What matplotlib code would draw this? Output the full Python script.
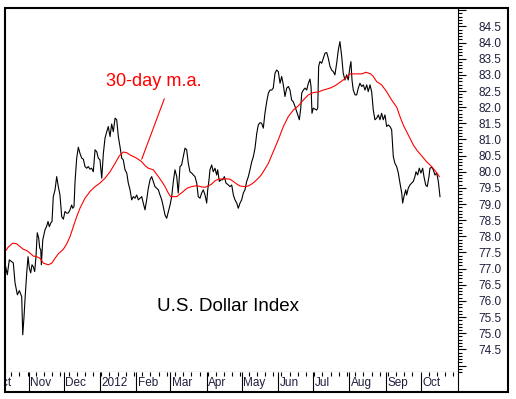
import matplotlib
matplotlib.use("Agg")
import matplotlib.pyplot as plt
import matplotlib.dates as mdates
from matplotlib.patches import Rectangle
from matplotlib.transforms import ScaledTranslation
import pandas as pd

plt.rcParams['font.family'] = ['Liberation Sans', 'DejaVu Sans']

# Day offsets are counted from 2011-11-01
base_date = pd.Timestamp("2011-11-01")

# U.S. Dollar Index, daily closes
usd_day = [
    -20.3, -18.3, -16.6, -13.2, -11.7, -9.7, -8.0, -6.0, -5.1, -4.0,
    -3.2, -1.7, -0.6, 0.5, 1.7, 2.8, 3.9, 5.1, 6.2, 7.3,
    8.5, 9.4, 10.3, 10.8, 12.0, 13.9, 15.4, 16.5, 17.6, 18.8,
    19.9, 21.0, 22.5, 23.9, 25.3, 26.7, 28.2, 29.6, 31.0, 32.5,
    33.8, 35.3, 36.7, 37.6, 38.7, 39.6, 41.0, 42.4, 43.8, 45.3,
    46.7, 48.1, 49.6, 50.9, 52.4, 53.8, 55.2, 56.7, 58.1, 59.5,
    60.9, 62.4, 63.8, 65.2, 66.7, 68.0, 69.5, 70.9, 72.3, 73.8,
    75.2, 76.6, 78.0, 79.5, 80.8, 82.3, 83.8, 85.1, 86.6, 88.0,
    89.4, 90.8, 92.3, 93.7, 95.1, 96.6, 97.9, 99.4, 100.8, 102.2,
    103.7, 105.1, 106.5, 107.9, 109.4, 110.8, 112.2, 113.7, 115.0, 116.5,
    117.9, 119.3, 120.8, 122.2, 123.6, 125.0, 126.5, 127.8, 129.3, 130.7,
    132.1, 133.6, 135.0, 136.4, 137.8, 139.3, 140.7, 142.1, 143.6, 144.9,
    146.4, 147.8, 149.2, 150.7, 152.1, 153.0, 154.1, 154.9, 156.4, 157.7,
    159.2, 160.6, 161.5, 162.9, 164.3, 165.8, 167.2, 168.6, 170.6, 172.0,
    173.5, 174.9, 176.3, 177.8, 179.1, 180.6, 182.0, 183.4, 184.8, 186.3,
    187.7, 189.1, 190.6, 192.0, 193.4, 194.9, 196.2, 197.7, 199.1, 200.5,
    201.9, 203.4, 204.8, 206.2, 207.7, 209.0, 210.5, 211.9, 213.3, 214.8,
    216.2, 217.6, 219.0, 220.5, 221.9, 223.3, 224.7, 226.1, 227.6, 229.0,
    230.4, 231.3, 232.5, 233.3, 234.7, 236.1, 237.6, 239.0, 240.4, 241.3,
    242.1, 243.2, 244.7, 246.1, 247.0, 247.8, 248.9, 250.4, 251.8, 253.2,
    254.7, 256.0, 257.5, 258.9, 260.3, 261.7, 263.2, 264.6, 266.0, 267.5,
    268.8, 270.3, 271.7, 273.1, 274.6, 275.4, 276.3, 277.4, 278.9, 280.3,
    281.7, 283.1, 284.6, 286.0, 287.4, 288.9, 290.2, 291.7, 293.1, 294.5,
    295.9, 297.4, 298.8, 300.2, 301.6, 303.0, 304.5, 305.9, 307.3, 308.8,
    310.2, 311.6, 313.0, 314.5, 315.9, 317.3, 318.8, 319.6, 320.7, 322.2,
    323.0, 324.4, 325.8, 327.3, 328.7, 330.1, 331.0, 332.4, 333.8, 335.2,
    336.7, 337.8, 339.3, 340.6, 342.1, 342.9, 344.4, 345.8, 347.2, 348.7,
    350.1, 351.5,
]
usd_val = [
    77.17, 76.81, 77.27, 77.18, 76.56, 76.19, 76.32, 76.13, 74.95, 75.52,
    76.03, 76.87, 77.37, 77.02, 76.87, 77.12, 77.06, 76.91, 77.37, 78.11,
    77.95, 77.64, 77.58, 77.12, 77.89, 78.20, 78.32, 78.46, 78.30, 78.41,
    78.46, 79.23, 79.44, 79.85, 79.54, 79.28, 78.61, 78.53, 78.77, 78.72,
    78.72, 78.82, 78.97, 78.87, 78.92, 79.70, 80.42, 80.76, 80.57, 80.42,
    80.39, 80.16, 80.11, 80.16, 80.08, 80.11, 80.00, 80.68, 80.62, 80.42,
    80.37, 79.80, 80.57, 81.04, 81.24, 81.40, 81.09, 81.48, 81.24, 81.66,
    81.61, 81.09, 80.78, 80.42, 80.37, 80.06, 79.96, 79.65, 79.44, 79.13,
    79.23, 79.18, 79.28, 79.13, 79.18, 79.23, 79.03, 78.82, 79.13, 79.49,
    79.75, 79.85, 79.70, 79.54, 79.49, 79.44, 79.28, 79.13, 78.92, 78.66,
    78.56, 78.76, 78.97, 79.23, 79.70, 80.06, 79.85, 79.34, 80.16, 80.21,
    80.47, 80.73, 80.68, 80.26, 80.00, 79.96, 79.90, 79.85, 79.65, 79.23,
    79.18, 79.34, 79.44, 79.28, 79.03, 79.44, 79.75, 80.06, 80.21, 80.00,
    80.11, 79.90, 80.06, 79.70, 79.75, 79.75, 79.85, 79.65, 79.59, 79.54,
    79.59, 79.28, 79.13, 79.03, 78.87, 79.03, 79.13, 79.34, 79.44, 79.70,
    79.85, 80.06, 80.31, 80.47, 80.73, 81.19, 81.45, 81.52, 81.50, 81.35,
    81.81, 82.17, 82.43, 82.53, 82.53, 82.59, 83.05, 83.15, 83.10, 82.74,
    82.95, 82.69, 82.33, 82.59, 82.64, 82.53, 82.22, 82.17, 82.02, 81.86,
    81.71, 81.61, 81.97, 82.43, 82.53, 82.59, 82.53, 82.74, 82.87, 82.64,
    81.81, 81.97, 81.94, 81.91, 81.97, 83.26, 83.41, 83.36, 83.52, 83.67,
    83.69, 83.52, 83.26, 83.15, 83.10, 83.00, 83.36, 83.77, 84.03, 83.57,
    83.05, 82.84, 83.00, 82.84, 83.26, 83.41, 82.84, 82.53, 82.38, 82.38,
    82.59, 82.74, 82.64, 82.69, 82.53, 82.69, 82.48, 82.69, 82.48, 81.91,
    81.61, 81.66, 81.76, 81.61, 81.81, 81.61, 81.76, 81.40, 81.45, 81.40,
    81.30, 80.47, 80.26, 80.16, 79.96, 79.65, 79.34, 79.03, 79.23, 79.44,
    79.28, 79.49, 79.59, 79.65, 79.70, 79.85, 80.00, 79.90, 80.11, 79.96,
    80.11, 79.85, 79.59, 79.54, 79.85, 80.11, 80.14, 80.06, 79.90, 79.96,
    79.70, 79.23,
]

# 30-day moving average (red)
ma_day = [
    -20.3, -17.4, -13.7, -10.3, -7.4, -4.6, -1.7, 1.1, 3.9, 6.8,
    9.7, 12.5, 16.8, 19.7, 22.5, 25.3, 29.6, 32.5, 35.3, 38.1,
    41.0, 43.8, 48.1, 52.4, 56.7, 60.9, 65.2, 69.5, 73.8, 77.4,
    80.8, 83.8, 86.6, 92.3, 96.6, 99.4, 102.2, 106.5, 110.8, 113.7,
    116.5, 119.3, 121.3, 126.5, 132.1, 135.3, 139.3, 143.6, 147.8, 150.7,
    153.5, 156.4, 159.2, 162.0, 165.8, 169.2, 172.0, 174.9, 177.8, 180.6,
    184.8, 187.7, 190.6, 193.4, 196.2, 198.5, 200.5, 204.8, 209.0, 213.3,
    217.6, 221.9, 226.1, 230.4, 234.7, 239.0, 243.2, 247.5, 251.8, 257.5,
    261.7, 266.0, 270.3, 274.6, 278.9, 284.6, 288.3, 292.3, 294.5, 297.4,
    301.6, 305.9, 310.2, 314.5, 317.3, 320.1, 323.0, 325.8, 328.7, 332.1,
    335.9, 340.1, 344.4, 348.7, 350.9,
]
ma_val = [
    77.53, 77.67, 77.79, 77.77, 77.68, 77.60, 77.56, 77.48, 77.39, 77.37,
    77.32, 77.17, 77.12, 77.17, 77.32, 77.46, 77.60, 77.77, 77.99, 78.30,
    78.61, 78.87, 79.18, 79.39, 79.54, 79.65, 79.80, 80.00, 80.26, 80.49,
    80.61, 80.59, 80.52, 80.42, 80.31, 80.19, 80.11, 80.06, 79.85, 79.70,
    79.54, 79.34, 79.23, 79.23, 79.39, 79.49, 79.54, 79.57, 79.53, 79.52,
    79.56, 79.62, 79.72, 79.77, 79.78, 79.78, 79.77, 79.70, 79.62, 79.56,
    79.54, 79.56, 79.62, 79.70, 79.80, 79.89, 80.00, 80.26, 80.62, 80.99,
    81.40, 81.71, 81.91, 82.04, 82.22, 82.38, 82.45, 82.47, 82.53, 82.59,
    82.66, 82.77, 82.88, 83.03, 83.03, 83.03, 83.08, 83.03, 82.95, 82.79,
    82.69, 82.48, 82.22, 82.00, 81.71, 81.45, 81.24, 81.04, 80.83, 80.65,
    80.49, 80.31, 80.16, 79.97, 79.85,
]

# y axis ticks, every half point
y_ticks = [74.0, 74.5, 75.0, 75.5, 76.0, 76.5, 77.0, 77.5, 78.0, 78.5, 79.0, 79.5,
           80.0, 80.5, 81.0, 81.5, 82.0, 82.5, 83.0, 83.5, 84.0, 84.5, 85.0]
y_labels = ["", "74.5", "75.0", "75.5", "76.0", "76.5", "77.0", "77.5", "78.0", "78.5",
            "79.0", "79.5", "80.0", "80.5", "81.0", "81.5", "82.0", "82.5", "83.0",
            "83.5", "84.0", "84.5", ""]
month_labels = ["Oct", "Nov", "Dec", "2012", "Feb", "Mar", "Apr", "May", "Jun",
                "Jul", "Aug", "Sep", "Oct"]

def to_dates(days):
    return base_date + pd.to_timedelta(days, unit="D")

usd_dates = to_dates(usd_day)
ma_dates = to_dates(ma_day)
months = pd.date_range("2011-10-01", periods=len(month_labels), freq="MS")

W, H = 516, 399
fig = plt.figure(figsize=(W / 100, H / 100), dpi=100)
fig.patch.set_facecolor("white")

# pixel layout
left, right, top, bottom, band_bottom = 4.5, 458, 8, 372, 392
ax = fig.add_axes([left / W, (H - bottom) / H, (right - left) / W, (bottom - top) / H])
axb = fig.add_axes([left / W, (H - band_bottom) / H, (right - left) / W, (band_bottom - bottom) / H])

xmin = base_date + pd.Timedelta(days=-20.7)
xmax = base_date + pd.Timedelta(days=366.9)

ax.plot(usd_dates, usd_val, color="black", lw=0.8)
ax.plot(ma_dates, ma_val, color="#ff0000", lw=0.8)

ax.set_xticks([])
ax.set_xlim(xmin, xmax)
ax.set_ylim(73.80, 85.07)

for s in ["left", "top"]:
    ax.spines[s].set_visible(False)
for s in ["right", "bottom"]:
    ax.spines[s].set_linewidth(0.8)

ax.yaxis.tick_right()
ax.set_yticks(y_ticks)
ax.set_yticklabels(y_labels)
ax.yaxis.set_minor_locator(plt.MultipleLocator(0.1))
ax.set_ylim(73.80, 85.07)
ax.tick_params(axis="y", which="major", direction="out", length=5.5, width=0.8,
               pad=9.5, labelsize=8.5, labelcolor="#1e1e3c")
ax.tick_params(axis="y", which="minor", direction="out", length=2.8, width=0.8)

# annotation
ax.text(base_date + pd.Timedelta(days=66.1), 82.66, "30-day m.a.", color="#ff0000",
        fontsize=13.1, ha="left", va="baseline")
ax.annotate("", xy=(base_date + pd.Timedelta(days=96.6), 80.39),
            xytext=(base_date + pd.Timedelta(days=115.9), 82.26),
            arrowprops=dict(arrowstyle="-", color="#ff0000", lw=0.8,
                            shrinkA=0, shrinkB=0))
ax.text(base_date + pd.Timedelta(days=109.4), 75.70, "U.S. Dollar Index",
        color="black", fontsize=13.5, ha="left", va="baseline")

# month band under the chart
axb.set_ylim(0, 1)
axb.set_yticks([])
for s in ["left", "bottom", "top"]:
    axb.spines[s].set_visible(False)
axb.spines["right"].set_linewidth(0.8)
axb.xaxis.tick_top()
axb.set_xticks(months)
axb.set_xticklabels([])
axb.xaxis.set_minor_locator(mdates.WeekdayLocator(byweekday=mdates.MO))
axb.set_xlim(xmin, xmax)  # after set_xticks, which widens the limits
axb.tick_params(axis="x", which="major", direction="in", length=14.4, width=0.8)
axb.tick_params(axis="x", which="minor", direction="in", length=2.7, width=0.8)

offset = ScaledTranslation(1.5 / 100, 0, fig.dpi_scale_trans)
for m, lab in zip(months, month_labels):
    axb.text(m, 0.45, lab, fontsize=8.5, color="#1e1e3c", ha="left", va="center",
             transform=axb.get_xaxis_transform() + offset, clip_on=True)

# outer frame
frame = Rectangle((4.5 / W, (H - 392) / H), (508 - 4.5) / W, (392 - 7.5) / H,
                  transform=fig.transFigure, fill=False, edgecolor="black", lw=1.5)
fig.patches.append(frame)

fig.savefig("out.png", dpi=100)
